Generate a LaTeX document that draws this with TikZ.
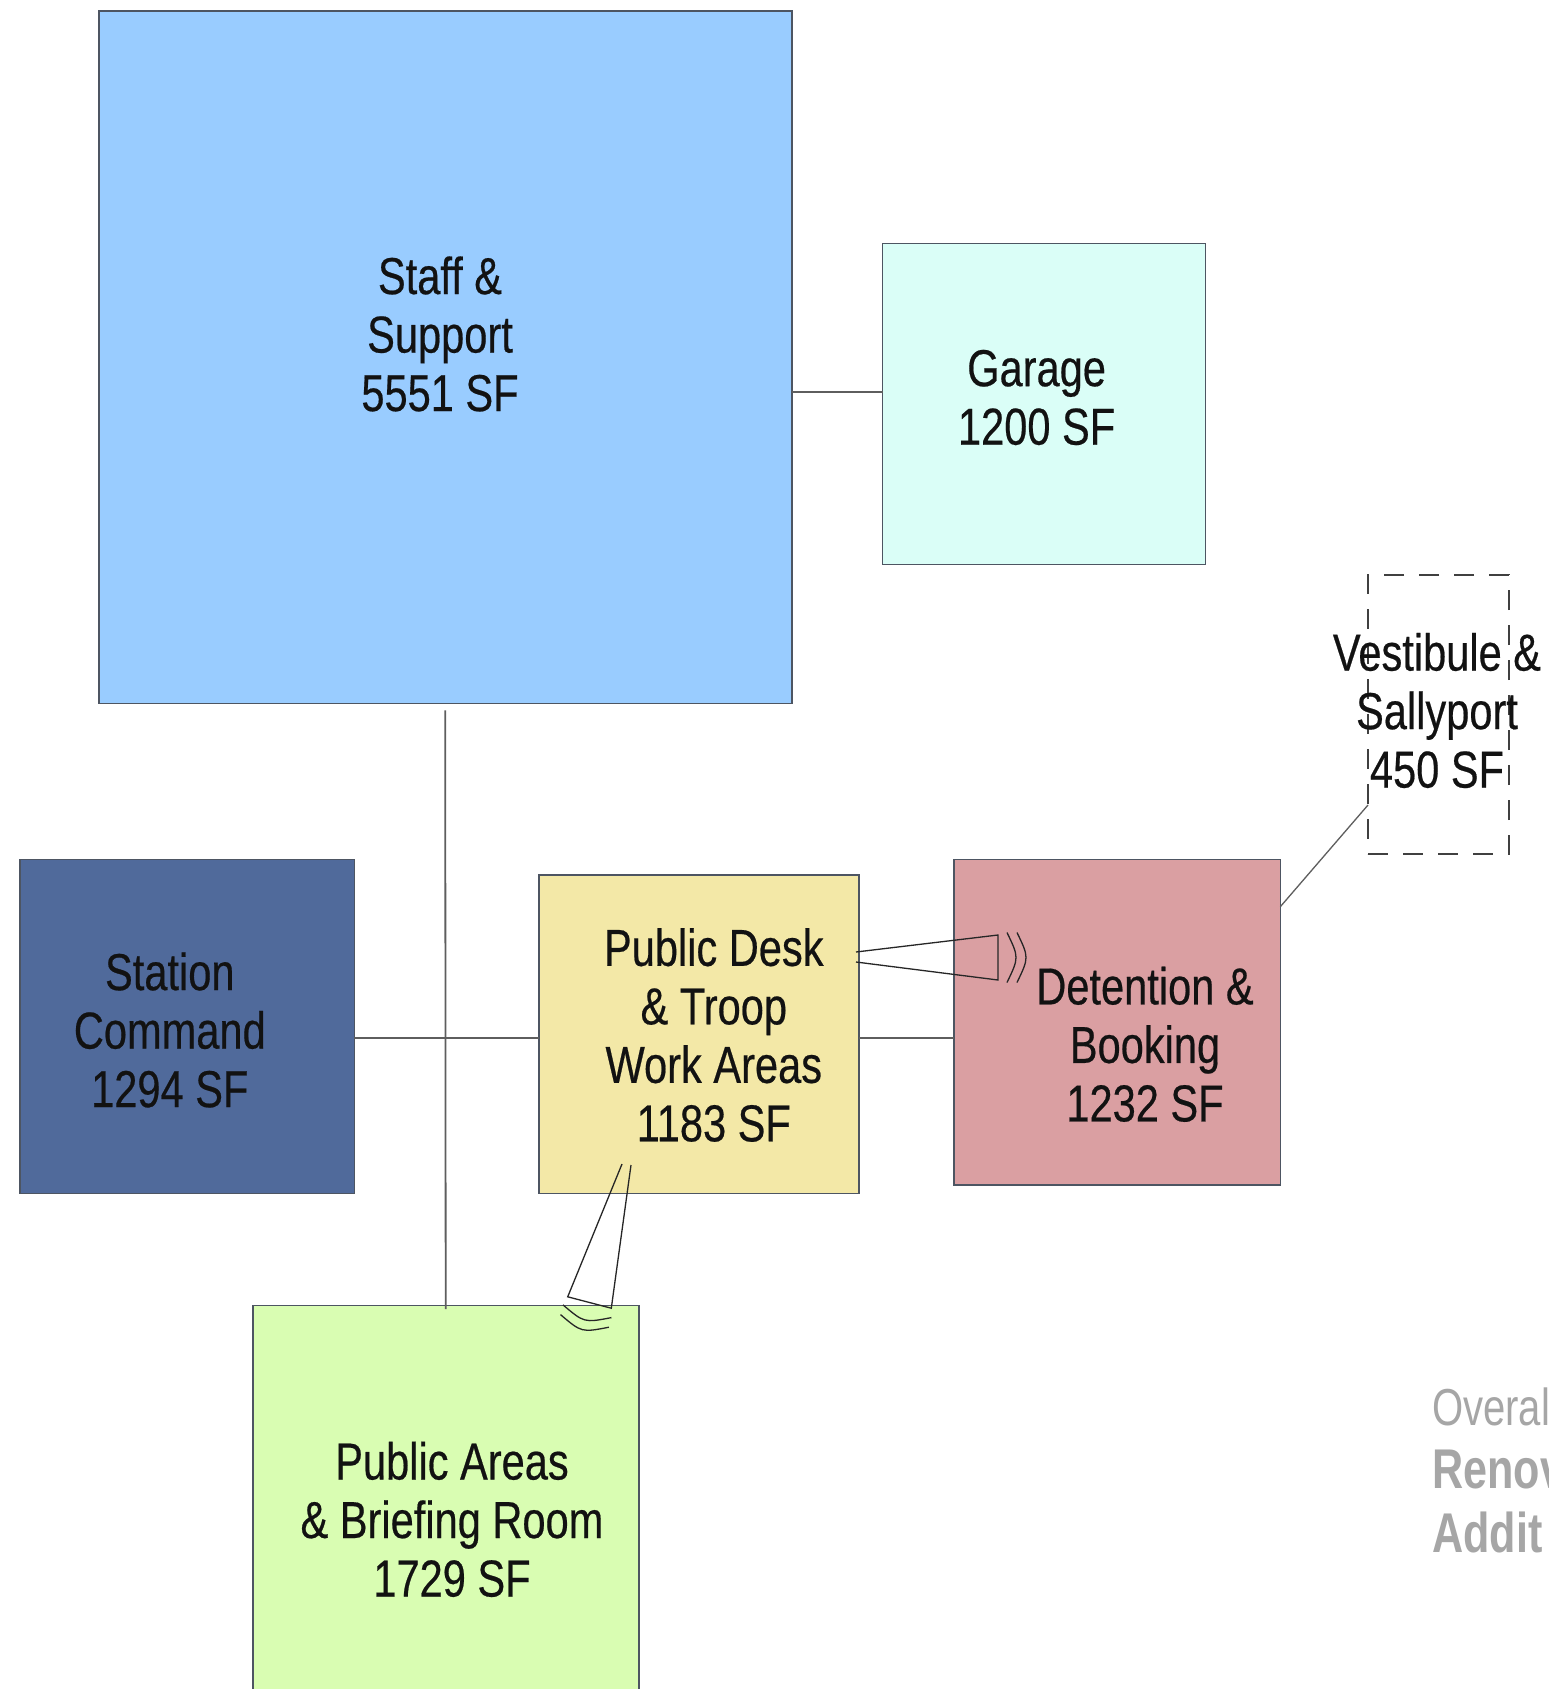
\documentclass[tikz,border=0pt]{standalone}
\usepackage{fontspec}
\setmainfont{Liberation Sans}[FakeStretch=0.8, FakeBold=0.4]
\newfontfamily\graysans{Liberation Sans}[FakeStretch=0.77]
\definecolor{staffc}{HTML}{99CCFF}
\definecolor{garc}{HTML}{DAFEF7}
\definecolor{stac}{HTML}{506A9B}
\definecolor{deskc}{HTML}{F3E8A7}
\definecolor{detc}{HTML}{DA9FA2}
\definecolor{pubc}{HTML}{D9FDB2}
\definecolor{edgec}{HTML}{4D5562}
\definecolor{linkc}{HTML}{5E5E5E}
\definecolor{titlec}{HTML}{A6A6A6}
\begin{document}
\begin{tikzpicture}[x=1pt,y=-1pt,
  room/.style={draw=edgec, line width=1.6pt, rectangle, inner sep=0pt, outer sep=0pt},
  roomtext/.style={align=center, inner sep=0pt, text=black!93,
    font=\fontsize{52}{58.5}\selectfont},
  link/.style={draw=linkc, line width=1.8pt},
  wedge/.style={draw=black!85, line width=1.3pt},
  title/.style={anchor=base west, inner sep=0pt, text=titlec}]
\useasboundingbox (0,0) rectangle (1548,1689);
\clip (0,0) rectangle (1548,1689);
\fill[white] (0,0) rectangle (1548,1689);

% rooms
\node[room, fill=staffc, minimum width=693pt, minimum height=692.6pt] (staff) at (445.2,357.1) {};
\node[room, fill=garc, minimum width=322.8pt, minimum height=321.1pt] (garage) at (1044,404) {};
\node[room, fill=stac, minimum width=334.7pt, minimum height=333.9pt] (sta) at (187.05,1026.55) {};
\node[room, fill=deskc, minimum width=319.9pt, minimum height=318.8pt] (desk) at (698.95,1034.1) {};
\node[room, fill=detc, minimum width=326.7pt, minimum height=325.3pt] (det) at (1117.05,1022.25) {};
\node[room, fill=pubc, minimum width=386pt, minimum height=500pt] (pub) at (445.7,1555.6) {};
\node[room, draw=black!75, line width=1.4pt, dash pattern=on 20pt off 15pt, minimum width=141pt, minimum height=279pt] (ves) at (1438.5,714.5) {};

% connectors
\coordinate (g1) at ([yshift=12pt]garage.west);
\draw[link] (g1) -- (g1 -| staff.east);
\draw[link] ([yshift=-7pt]staff.south) -- ([yshift=-3.5pt]pub.north);
\coordinate (h1) at ([yshift=-4pt]desk.west);
\draw[link] (h1 -| sta.east) -- (h1);
\coordinate (h2) at ([yshift=-4pt]desk.east);
\draw[link] (h2) -- (h2 -| det.west);
\draw[link, line width=1.3pt] ([yshift=-47pt]det.north east) -- ([yshift=-230pt]ves.north west);

% adjacency wedges
\draw[wedge] (856,952) -- (998,935) -- (998,980) -- (856,962);
\draw[wedge] (1007,932.5) .. controls (1019,957.5) .. (1007,982.5);
\draw[wedge] (1017,932.5) .. controls (1029,957.5) .. (1017,982.5);
\draw[wedge] (622,1164) -- (567.7,1296.8) -- (611.3,1308.2) -- (631,1165);
\draw[wedge] (611.4,1317.6) .. controls (584.2,1322.8) .. (563,1304.9);
\draw[wedge] (608.9,1327.2) .. controls (581.6,1332.5) .. (560.5,1314.6);

% labels
\node[roomtext] (staffT) at (440,334) {Staff \&\\Support\\5551 SF};
\node[roomtext] (garT) at (1036.6,397.5) {Garage\\1200 SF};
\node[roomtext] (vesT) at (1437,710.5) {Vestibule \&\\Sallyport\\450 SF};
\node[roomtext] (staT) at (169.8,1030) {Station\\Command\\1294 SF};
\node[roomtext] (deskT) at (713.8,1035) {Public Desk\\\& Troop\\Work Areas\\1183 SF};
\node[roomtext] (detT) at (1145,1044.3) {Detention \&\\Booking\\1232 SF};
\node[roomtext] (pubT) at (452,1519.4) {Public Areas\\\& Briefing Room\\1729 SF};

% title (cut off at the page edge, as in the reference)
\node[title, font=\graysans\fontsize{52}{58}\selectfont] (ov) at (1432,1425) {Overal};
\node[title, font=\graysans\bfseries\fontsize{56}{60}\selectfont] (ren) at (1432,1488) {Renov};
\node[title, font=\graysans\bfseries\fontsize{56}{60}\selectfont] (add) at (1432,1552) {Addit};
\end{tikzpicture}
\end{document}
